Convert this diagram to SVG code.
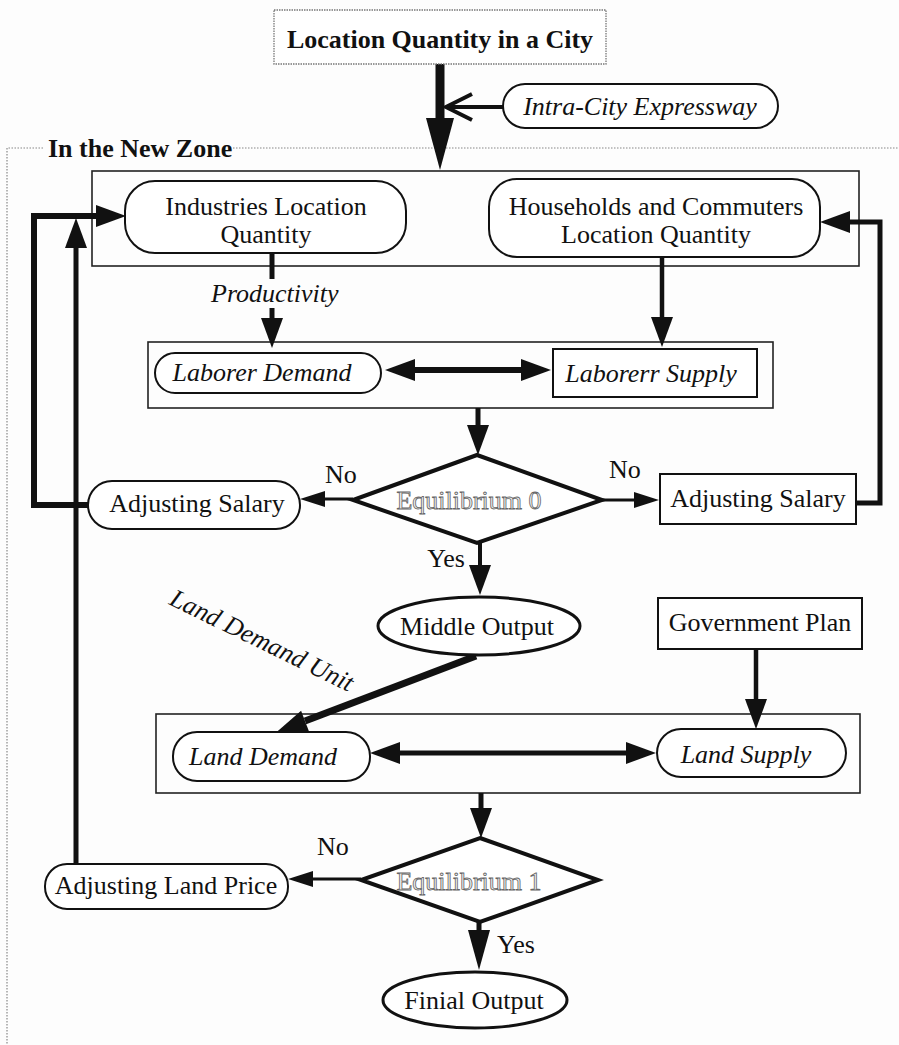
<svg xmlns="http://www.w3.org/2000/svg" width="899" height="1045" viewBox="0 0 899 1045">
<style>
text{font-family:"Liberation Serif","Times New Roman",serif;fill:#111;font-size:26px}
.b{font-weight:bold}
.i{font-style:italic}
.m{text-anchor:middle}
.eq{fill:#efefef;stroke:#666;stroke-width:0.8}
.box{fill:none;stroke:#222;stroke-width:1.6}
.node{fill:#fff;stroke:#111;stroke-width:2}
.dot{fill:none;stroke:#888;stroke-width:1.2;stroke-dasharray:1.5 1.5}
.c{fill:none;stroke:#111;stroke-linejoin:miter}
</style>
<defs>
<marker id="ah" markerUnits="userSpaceOnUse" markerWidth="32" markerHeight="24" refX="0" refY="12" orient="auto-start-reverse" overflow="visible"><path d="M0,1 L30,12 L0,23 z" fill="#111"/></marker>
<marker id="ahs" markerUnits="userSpaceOnUse" markerWidth="26" markerHeight="18" refX="0" refY="9" orient="auto" overflow="visible"><path d="M0,1 L25,9 L0,17 z" fill="#111"/></marker>
<marker id="ahl" markerUnits="userSpaceOnUse" markerWidth="42" markerHeight="24" refX="0" refY="11" orient="auto" overflow="visible"><path d="M0,0 L40,11 L0,22 z" fill="#111"/></marker>
<marker id="ahb" markerUnits="userSpaceOnUse" markerWidth="54" markerHeight="30" refX="0" refY="15" orient="auto" overflow="visible"><path d="M0,1 L52,15 L0,29 z" fill="#111"/></marker>
</defs>
<rect width="899" height="1045" fill="#fdfdfd"/>

<g id="zone">
<path class="dot" d="M43,148 H7 V1045 M233,148 H899"/>
<text class="b" x="48" y="157">In the New Zone</text>
</g>

<g id="groups">
<rect class="box" x="92" y="171" width="767" height="95"/>
<rect class="box" x="148" y="342" width="625" height="66"/>
<rect class="box" x="156" y="714" width="704" height="79"/>
</g>

<g id="connectors">
<line class="c" x1="440" y1="64" x2="440" y2="118" stroke-width="9" marker-end="url(#ahb)"/>
<line class="c" x1="503" y1="107" x2="446" y2="107" stroke-width="4"/>
<polyline class="c" points="472,94 446,107 472,120" stroke-width="4"/>
<line class="c" x1="272" y1="254" x2="272" y2="279" stroke-width="5"/>
<line class="c" x1="272" y1="308" x2="272" y2="318" stroke-width="5" marker-end="url(#ah)"/>
<line class="c" x1="662" y1="257" x2="662" y2="317" stroke-width="4.5" marker-end="url(#ah)"/>
<line class="c" x1="415" y1="370" x2="521" y2="370" stroke-width="6" marker-start="url(#ah)" marker-end="url(#ah)"/>
<line class="c" x1="478" y1="408" x2="478" y2="425" stroke-width="5" marker-end="url(#ah)"/>
<line class="c" x1="353" y1="499" x2="325" y2="499" stroke-width="3" marker-end="url(#ahs)"/>
<line class="c" x1="602" y1="500" x2="634" y2="500" stroke-width="3" marker-end="url(#ahs)"/>
<line class="c" x1="480" y1="543" x2="480" y2="565" stroke-width="4" marker-end="url(#ah)"/>
<line class="c" x1="476" y1="656" x2="305" y2="721" stroke-width="7" marker-end="url(#ah)"/>
<line class="c" x1="756" y1="650" x2="756" y2="699" stroke-width="4.5" marker-end="url(#ah)"/>
<line class="c" x1="400" y1="753" x2="626" y2="753" stroke-width="5" marker-start="url(#ah)" marker-end="url(#ah)"/>
<line class="c" x1="481" y1="793" x2="481" y2="808" stroke-width="5" marker-end="url(#ah)"/>
<line class="c" x1="361" y1="879" x2="313" y2="879" stroke-width="3" marker-end="url(#ahs)"/>
<line class="c" x1="479" y1="922" x2="479" y2="930" stroke-width="5" marker-end="url(#ahl)"/>
<polyline class="c" points="88,505 34,505 34,216 96,216" stroke-width="6" marker-end="url(#ah)"/>
<line class="c" x1="76" y1="864" x2="76" y2="248" stroke-width="5" marker-end="url(#ah)"/>
<polyline class="c" points="856,503 880,503 880,222 850,222" stroke-width="5" marker-end="url(#ah)"/>
<text x="325" y="483">No</text>
<text x="609" y="478">No</text>
<text x="465" y="567" text-anchor="end">Yes</text>
<text x="317" y="855">No</text>
<text x="497" y="953">Yes</text>
<text class="i" x="211" y="302">Productivity</text>
<text class="i" x="168" y="604" font-size="25" transform="rotate(26 168 604)">Land Demand Unit</text>
</g>

<g id="location-city">
<rect x="274" y="10" width="332" height="54" fill="#fff" stroke="#777" stroke-width="1.3" stroke-dasharray="1.5 1"/>
<text class="b m" x="440" y="48">Location Quantity in a City</text>
</g>

<g id="intra-city">
<rect class="node" x="503" y="84" width="275" height="44" rx="22"/>
<text class="i m" x="640" y="115">Intra-City Expressway</text>
</g>

<g id="industries">
<rect class="node" x="125" y="181" width="281" height="72" rx="30"/>
<text class="m" x="266" y="215">Industries Location</text>
<text class="m" x="266" y="243">Quantity</text>
</g>

<g id="households">
<rect class="node" x="489" y="179" width="331" height="78" rx="28"/>
<text class="m" x="656" y="215">Households and Commuters</text>
<text class="m" x="656" y="243">Location Quantity</text>
</g>

<g id="laborer-demand">
<rect class="node" x="155" y="353" width="226" height="40" rx="20"/>
<text class="i m" x="262" y="381">Laborer Demand</text>
</g>

<g id="laborer-supply">
<rect class="node" x="553" y="349" width="204" height="48" stroke-width="2.5"/>
<text class="i m" x="651" y="382">Laborerr Supply</text>
</g>

<g id="equilibrium-0">
<polygon points="477,455 602,500 477,543 353,500" fill="#fff" stroke="#111" stroke-width="4" stroke-linejoin="miter"/>
<text class="eq m" x="469" y="509">Equilibrium 0</text>
</g>

<g id="adjusting-salary-left">
<rect class="node" x="88" y="481" width="212" height="48" rx="24"/>
<text class="m" x="197" y="512">Adjusting Salary</text>
</g>

<g id="adjusting-salary-right">
<rect class="node" x="660" y="474" width="196" height="50"/>
<text class="m" x="758" y="507">Adjusting Salary</text>
</g>

<g id="middle-output">
<ellipse cx="479" cy="626" rx="101" ry="29" fill="#fff" stroke="#111" stroke-width="3"/>
<text class="m" x="477" y="635">Middle Output</text>
</g>

<g id="government-plan">
<rect class="node" x="658" y="598" width="204" height="51" stroke-width="3"/>
<text class="m" x="760" y="631">Government Plan</text>
</g>

<g id="land-demand">
<rect class="node" x="173" y="732" width="197" height="49" rx="24"/>
<text class="i m" x="263" y="765">Land Demand</text>
</g>

<g id="land-supply">
<rect class="node" x="657" y="729" width="189" height="48" rx="24"/>
<text class="i m" x="746" y="763">Land Supply</text>
</g>

<g id="equilibrium-1">
<polygon points="480,838 598,880 480,922 361,880" fill="#fff" stroke="#111" stroke-width="4" stroke-linejoin="miter"/>
<text class="eq m" x="469" y="890">Equilibrium 1</text>
</g>

<g id="adjusting-land-price">
<rect class="node" x="45" y="864" width="243" height="45" rx="22"/>
<text class="m" x="166" y="894">Adjusting Land Price</text>
</g>

<g id="finial-output">
<ellipse cx="475" cy="1000" rx="92" ry="28" fill="#fff" stroke="#111" stroke-width="3"/>
<text class="m" x="474" y="1009">Finial Output</text>
</g>
</svg>
